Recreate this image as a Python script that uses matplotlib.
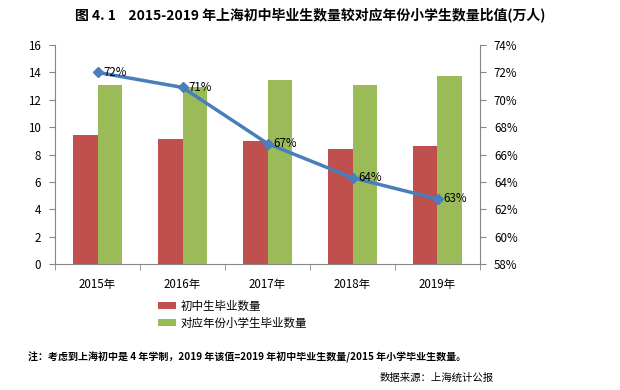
import numpy as np
import matplotlib
matplotlib.use("Agg")
import matplotlib.pyplot as plt
from matplotlib.ticker import FuncFormatter

plt.rcParams['font.family'] = ['Noto Sans CJK SC', 'DejaVu Sans']

# data
years = ["2015年", "2016年", "2017年", "2018年", "2019年"]
junior_grads = [9.43, 9.13, 8.99, 8.40, 8.62]      # 初中生毕业数量 (万人)
primary_grads = [13.08, 12.96, 13.44, 13.08, 13.74]  # 对应年份小学生毕业数量 (万人)
ratio = [72.0, 70.9, 66.8, 64.3, 62.75]             # 比值 (%)
ratio_labels = ["72%", "71%", "67%", "64%", "63%"]

red = "#C0504D"
green = "#9BBB59"
blue = "#4A7EBB"
grey = "#868686"

fig = plt.figure(figsize=(6.2, 3.9), dpi=100)
ax = fig.add_axes([55 / 620, 1 - 264 / 390, (480 - 55) / 620, (264 - 45) / 390])

x = np.arange(len(years))
w = 0.29
ax.bar(x - w / 2, junior_grads, width=w, color=red, label="初中生毕业数量", zorder=2)
ax.bar(x + w / 2, primary_grads, width=w, color=green, label="对应年份小学生毕业数量", zorder=2)

ax.set_xlim(-0.5, len(years) - 0.5)
ax.set_ylim(0, 16)
ax.set_yticks(np.arange(0, 17, 2))
ax.set_xticks(x)
ax.set_xticklabels(years)
ax.set_xticks(np.arange(-0.5, len(years), 1), minor=True)
ax.tick_params(axis='x', which='major', length=0, pad=10, labelsize=8.3)
ax.tick_params(axis='x', which='minor', length=4, color=grey)
ax.tick_params(axis='y', length=4, color=grey, labelsize=8.3, pad=6)
ax.spines['top'].set_visible(False)
ax.spines['right'].set_visible(False)
for s in ['left', 'bottom']:
    ax.spines[s].set_color(grey)

ax2 = ax.twinx()
ax2.plot(x, ratio, color=blue, lw=2.5, marker='D', ms=5, zorder=5)
ax2.set_ylim(58, 74)
ax2.set_yticks(np.arange(58, 75, 2))
ax2.yaxis.set_major_formatter(FuncFormatter(lambda v, p: f"{v:.0f}%"))
ax2.tick_params(axis='y', length=4, color=grey, labelsize=8.3, pad=6)
ax2.spines['top'].set_visible(False)
ax2.spines['left'].set_visible(False)
ax2.spines['bottom'].set_visible(False)
ax2.spines['right'].set_color(grey)
for xi, yi, lab in zip(x, ratio, ratio_labels):
    ax2.annotate(lab, (xi, yi), xytext=(4, 0), textcoords='offset points',
                 va='center', ha='left', fontsize=8.3, zorder=6)

fig.text(310 / 620, 1 - 15 / 390,
         "图 4. 1    2015-2019 年上海初中毕业生数量较对应年份小学生数量比值(万人)",
         ha='center', va='center', fontsize=10, fontweight='bold')

handles, labels = ax.get_legend_handles_labels()
fig.legend(handles, labels, loc='upper left', bbox_to_anchor=(153 / 620, 1 - 295 / 390),
           frameon=False, fontsize=8.3, handlelength=1.6, handleheight=0.6,
           labelspacing=0.35, handletextpad=0.4, borderaxespad=0)

fig.text(28 / 620, 1 - 357 / 390,
         "注：考虑到上海初中是 4 年学制，2019 年该值=2019 年初中毕业生数量/2015 年小学毕业生数量。",
         ha='left', va='center', fontsize=7.2, fontweight='bold')
fig.text(494 / 620, 1 - 378 / 390, "数据来源：上海统计公报",
         ha='right', va='center', fontsize=7.5)

fig.savefig("out.png", dpi=100)
